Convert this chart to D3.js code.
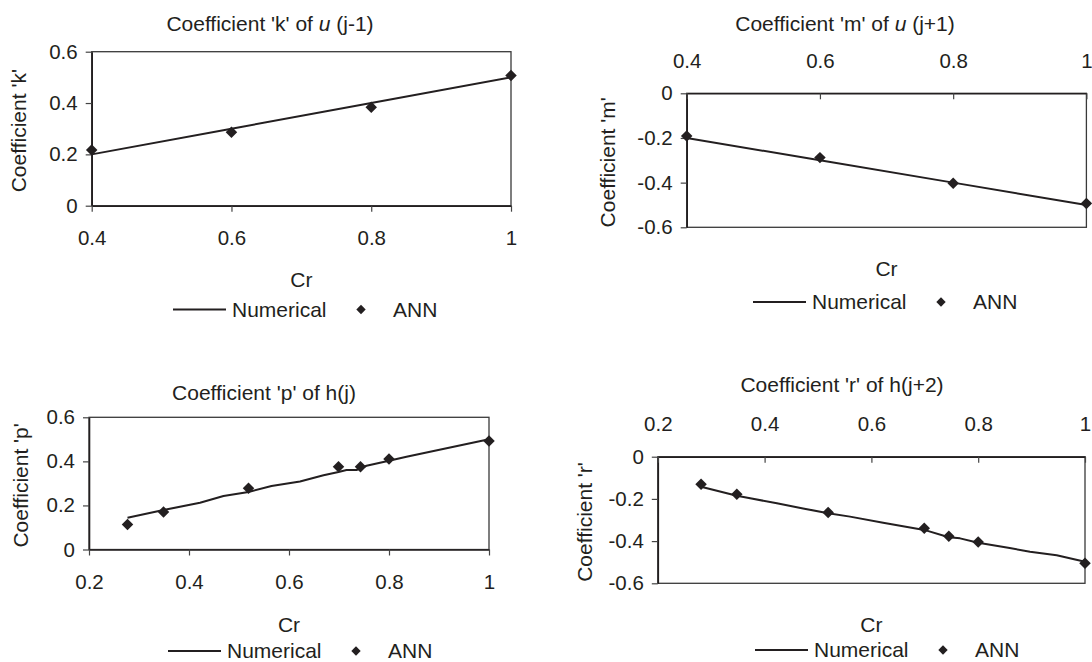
<!DOCTYPE html>
<html><head><meta charset="utf-8">
<script src="https://cdn.jsdelivr.net/npm/d3@7"></script>
<style>
body{margin:0;background:#fff}
svg{display:block}
text{font-family:"Liberation Sans",Arial,sans-serif;fill:#231f20}
</style>
</head><body>
<svg id="c" width="1092" height="662"></svg>
<script>
// ---------- data ----------
const crK = [0.4, 0.6, 0.8, 1];
const kNumerical = [0.2, 0.3, 0.4, 0.5];
const kANN = [0.217, 0.286, 0.384, 0.507];

const crM = [0.4, 0.6, 0.8, 1];
const mNumerical = [-0.2, -0.3, -0.4, -0.5];
const mANN = [-0.191, -0.288, -0.403, -0.493];

const crPNum = [0.277, 0.349, 0.422, 0.469, 0.519, 0.565, 0.622, 0.669, 0.699, 0.715, 0.735, 0.755, 0.8, 0.835, 1.0];
const pNumerical = [0.144, 0.179, 0.212, 0.243, 0.261, 0.288, 0.309, 0.337, 0.352, 0.361, 0.361, 0.380, 0.403, 0.421, 0.500];
const crPANN = [0.277, 0.349, 0.519, 0.699, 0.743, 0.8, 1.0];
const pANN = [0.114, 0.170, 0.278, 0.376, 0.376, 0.411, 0.492];

const crRNum = [0.281, 0.348, 0.373, 0.423, 0.472, 0.519, 0.560, 0.622, 0.699, 0.745, 0.766, 0.8, 0.859, 0.897, 0.947, 1.0];
const rNumerical = [-0.142, -0.185, -0.197, -0.221, -0.245, -0.268, -0.284, -0.313, -0.347, -0.382, -0.387, -0.408, -0.433, -0.450, -0.467, -0.498];
const crRANN = [0.281, 0.348, 0.519, 0.699, 0.745, 0.8, 1.0];
const rANN = [-0.131, -0.178, -0.264, -0.339, -0.377, -0.404, -0.505];

const xTicksKM = [0.4, 0.6, 0.8, 1];
const xTicksPR = [0.2, 0.4, 0.6, 0.8, 1];
const yTicksPos = [0, 0.2, 0.4, 0.6];
const yTicksNeg = [-0.6, -0.4, -0.2, 0];

const xLabel = "Cr";
const seriesNames = ["Numerical", "ANN"];

// ---------- drawing ----------
const svg = d3.select("#c");
const ink = "#231f20";
const FS = 21, TFS = 20.5;

function panel(c) {
  const g = svg.append("g");
  const x = d3.scaleLinear().domain(c.xDomain).range([c.left, c.right]);
  const y = d3.scaleLinear().domain(c.yDomain).range([c.bottom, c.top]);
  const negative = c.yDomain[0] < 0;

  // frame
  g.append("rect").attr("x", c.left).attr("y", c.top)
    .attr("width", c.right - c.left).attr("height", c.bottom - c.top)
    .attr("fill", "none").attr("stroke", "#3a3a3a").attr("stroke-width", 1.3);

  // y axis
  const ya = g.append("g").attr("transform", `translate(${c.left},0)`)
    .call(d3.axisLeft(y).tickValues(c.yTicks).tickFormat(d => String(d))
      .tickSizeInner(6).tickSizeOuter(0).tickPadding(8));
  // x axis at y = 0
  const xa = g.append("g").attr("transform", `translate(0,${y(0)})`)
    .call(d3.axisBottom(x).tickValues(c.xTicks).tickFormat(d => String(d))
      .tickSizeInner(6).tickSizeOuter(0));
  [ya, xa].forEach(a => {
    a.attr("font-family", null).attr("font-size", null);
    a.select(".domain").attr("stroke", ink).attr("stroke-width", 1.6);
    a.selectAll(".tick line").attr("stroke", "#444").attr("stroke-width", 1.2);
    a.selectAll("text").style("font-size", TFS + "px").attr("fill", ink);
  });
  xa.selectAll("text").attr("y", negative ? -32.5 : 32.5).attr("dy", "0.35em");

  // numerical line
  const line = d3.line().x(d => x(d[0])).y(d => y(d[1]));
  g.append("path").datum(d3.zip(c.numX, c.numY))
    .attr("d", line).attr("fill", "none").attr("stroke", ink)
    .attr("stroke-width", 2).attr("stroke-linejoin", "round");

  // ANN diamonds
  const sym = d3.symbol().type(d3.symbolSquare).size(66);
  g.selectAll(".ann").data(d3.zip(c.annX, c.annY)).join("path")
    .attr("d", sym)
    .attr("transform", d => `translate(${x(d[0])},${y(d[1])}) rotate(45)`)
    .attr("fill", ink);

  // title
  const t = g.append("text").attr("x", c.titleX).attr("y", c.titleY)
    .attr("text-anchor", "middle").attr("dy", "0.35em").style("font-size", FS + "px");
  t.append("tspan").text(c.title[0]);
  if (c.title[1]) {
    t.append("tspan").attr("font-style", "italic").text(c.title[1]);
    t.append("tspan").text(c.title[2]);
  }

  // y label
  const ycy = (c.top + c.bottom) / 2 + 2;
  g.append("text").attr("transform", `translate(${c.yLabelX},${ycy}) rotate(-90)`)
    .attr("text-anchor", "middle").attr("dy", "0.35em").style("font-size", FS + "px")
    .text(c.yLabel);

  // x label
  g.append("text").attr("x", (c.left + c.right) / 2).attr("y", c.xLabelY)
    .attr("text-anchor", "middle").attr("dy", "0.35em").style("font-size", FS + "px")
    .text(xLabel);

  // legend
  const L = c.legend;
  g.append("line").attr("x1", L.x).attr("x2", L.x + 53).attr("y1", L.y).attr("y2", L.y)
    .attr("stroke", ink).attr("stroke-width", 1.9);
  g.append("text").attr("x", L.x + 59).attr("y", L.y).attr("dy", "0.35em")
    .style("font-size", FS + "px").text(seriesNames[0]);
  g.append("path").attr("d", d3.symbol().type(d3.symbolSquare).size(44))
    .attr("transform", `translate(${L.x + 188},${L.y}) rotate(45)`).attr("fill", ink);
  g.append("text").attr("x", L.x + 220).attr("y", L.y).attr("dy", "0.35em")
    .style("font-size", FS + "px").text(seriesNames[1]);
}

panel({
  xDomain: [0.4, 1], yDomain: [0, 0.6], left: 91.7, right: 511, top: 51.7, bottom: 205.7,
  xTicks: xTicksKM, yTicks: yTicksPos,
  numX: crK, numY: kNumerical, annX: crK, annY: kANN,
  title: ["Coefficient 'k' of ", "u", " (j-1)"], titleX: 270, titleY: 24,
  yLabel: "Coefficient 'k'", yLabelX: 19, xLabelY: 280,
  legend: {x: 173, y: 309.5}
});
panel({
  xDomain: [0.4, 1], yDomain: [-0.6, 0], left: 686.7, right: 1086.4, top: 93.3, bottom: 227.3,
  xTicks: xTicksKM, yTicks: yTicksNeg,
  numX: crM, numY: mNumerical, annX: crM, annY: mANN,
  title: ["Coefficient 'm' of ", "u", " (j+1)"], titleX: 845, titleY: 24,
  yLabel: "Coefficient 'm'", yLabelX: 608, xLabelY: 268.5,
  legend: {x: 753, y: 302}
});
panel({
  xDomain: [0.2, 1], yDomain: [0, 0.6], left: 89, right: 489, top: 417.3, bottom: 549.5,
  xTicks: xTicksPR, yTicks: yTicksPos,
  numX: crPNum, numY: pNumerical, annX: crPANN, annY: pANN,
  title: ["Coefficient 'p' of h(j)"], titleX: 264, titleY: 392.7,
  yLabel: "Coefficient 'p'", yLabelX: 21, xLabelY: 624.3,
  legend: {x: 168, y: 651}
});
panel({
  xDomain: [0.2, 1], yDomain: [-0.6, 0], left: 657.8, right: 1085, top: 456.7, bottom: 583.3,
  xTicks: xTicksPR, yTicks: yTicksNeg,
  numX: crRNum, numY: rNumerical, annX: crRANN, annY: rANN,
  title: ["Coefficient 'r' of h(j+2)"], titleX: 842, titleY: 384.3,
  yLabel: "Coefficient 'r'", yLabelX: 584.3, xLabelY: 624.3,
  legend: {x: 755, y: 650}
});
</script>
</body></html>
